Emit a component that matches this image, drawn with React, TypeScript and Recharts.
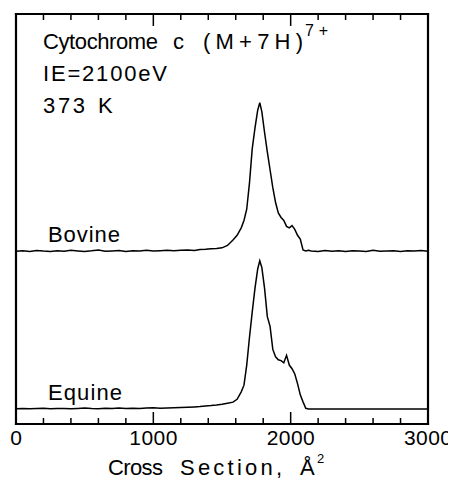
import React from 'react';
import { LineChart, Line, XAxis, YAxis } from 'recharts';

// Cross section (Å^2) sample positions
const crossSection = [
  0, 50, 100, 150, 200, 250, 300, 350, 400, 450, 500, 550, 600, 650, 700, 750, 800, 850, 900, 950,
  1000, 1050, 1100, 1150, 1200, 1250, 1300,
  1340, 1380, 1420, 1460, 1500, 1540, 1580, 1610, 1640, 1660, 1680, 1700, 1720, 1740, 1760, 1775,
  1790, 1810, 1830, 1850, 1870, 1890, 1910, 1930, 1950, 1970, 1990, 2010, 2030, 2050, 2070, 2090,
  2110, 2130,
  2150, 2200, 2250, 2300, 2350, 2400, 2450, 2500, 2550, 2600, 2650, 2700, 2750, 2800, 2850, 2900,
  2950, 3000,
];

// Normalised intensity (peak = 100)
const bovine = [
  0.3, 0.6, 0.1, 0.8, 0.4, 0.2, 0.7, 0.3, 0.9, 0.5, 0.2, 0.6, 1.2, 0.3, 0.5, 0.8, 0.2, 0.6, 0.4, 0.9,
  0.5, 0.7, 1.0, 0.6, 0.9, 1.1, 0.8,
  1.4, 1.6, 2.0, 2.2, 2.6, 4.2, 7.8, 11, 16, 21, 28.5, 46, 69, 83, 95, 100,
  94, 80, 67, 55, 43, 33, 26, 23, 21, 17, 16, 17.5, 15, 11, 8.5, 1.2,
  0.5, 0.9,
  0.5, 0.2, 0.8, 0.3, 0.6, 0.1, 0.7, 0.4, 0.2, 0.9, 0.3, 0.5, 0.7, 0.2, 0.6, 0.4,
  0.8, 0.3,
];

const equine = [
  0.2, 0.4, 0.1, 0.3, 0.5, 0.2, 0.4, 0.3, 0.1, 0.4, 0.6, 0.3, 0.2, 0.5, 0.3, 0.6, 0.4, 0.5, 0.3, 0.6,
  0.8, 0.5, 0.7, 0.9, 1.0, 1.2, 1.4,
  1.6, 2.0, 2.3, 2.7, 3.2, 3.9, 4.6, 6.5, 11.5, 16, 29.5, 48, 65, 81, 94, 99.5,
  95, 81, 62, 55.5, 40, 35, 33, 32.5, 31, 36, 29.5, 27, 23.5, 17, 9.5, 4.8,
  0.5, 0,
  0, 0, 0, 0, 0, 0, 0, 0, 0, 0, 0, 0, 0, 0, 0, 0,
  0, 0,
];

const xTicks = [0, 200, 400, 600, 800, 1000, 1200, 1400, 1600, 1800, 2000, 2200, 2400, 2600, 2800, 3000];
const majorTicks = [0, 1000, 2000, 3000];

// vertical stacking of the two traces (in intensity units)
const BOVINE_OFFSET = 115.65;
const EQUINE_OFFSET = 10.07;
const Y_MAX = 275.2;

const data = crossSection.map((x, i) => ({
  x,
  bovine: bovine[i] + BOVINE_OFFSET,
  equine: equine[i] + EQUINE_OFFSET,
}));

const FONT = '"Liberation Sans", Arial, Helvetica, sans-serif';

const BottomTick = (props: any) => {
  const { x, y, payload } = props;
  const v = payload.value as number;
  const major = majorTicks.includes(v);
  return (
    <g>
      <line x1={x} x2={x} y1={y} y2={y - (major ? 12 : 6)} stroke="#000" strokeWidth={1.5} />
      {major && (
        <text x={x} y={y + 21} textAnchor="middle" fontFamily={FONT} fontSize={21} textLength={String(v).length > 1 ? 48 : undefined} lengthAdjust="spacing" fill="#000">
          {String(v)}
        </text>
      )}
    </g>
  );
};

const TopTick = (props: any) => {
  const { x, y, payload } = props;
  const v = payload.value as number;
  const major = majorTicks.includes(v);
  return <line x1={x} x2={x} y1={y} y2={y + (major ? 12 : 6)} stroke="#000" strokeWidth={1.5} />;
};

const axisLineStyle = { stroke: '#000', strokeWidth: 2.2, strokeLinecap: 'square' as const };

const Labels = () => (
  <g fontFamily={FONT} fontSize={22} fill="#000">
    <text x={35} y={41} textLength={115} lengthAdjust="spacing">Cytochrome</text>
    <text x={165} y={41}>c</text>
    <text x={195} y={41} textLength={100} lengthAdjust="spacing">(M+7H)</text>
    <text x={297} y={28} fontSize={16} textLength={23} lengthAdjust="spacing">7+</text>
    <text x={35} y={73} textLength={124} lengthAdjust="spacing">IE=2100eV</text>
    <text x={35} y={105} textLength={42} lengthAdjust="spacing">373</text>
    <text x={90} y={105}>K</text>
    <text x={40} y={234} textLength={72} lengthAdjust="spacing">Bovine</text>
    <text x={40} y={392} textLength={74} lengthAdjust="spacing">Equine</text>
    <text x={100} y={467} textLength={55} lengthAdjust="spacing">Cross</text>
    <text x={172} y={467} textLength={102} lengthAdjust="spacing">Section,</text>
    <text x={292} y={467}>Å</text>
    <text x={309} y={455} fontSize={13}>2</text>
  </g>
);

export default function App() {
  return (
    <LineChart width={448} height={473} data={data} margin={{ top: 5, right: 27, bottom: 0, left: 7 }}>
      <XAxis
        xAxisId="b"
        dataKey="x"
        type="number"
        domain={[0, 3000]}
        ticks={xTicks}
        interval={0}
        height={57}
        tickSize={0}
        tickMargin={0}
        tickLine={false}
        axisLine={axisLineStyle}
        tick={<BottomTick />}
      />
      <XAxis
        xAxisId="t"
        dataKey="x"
        type="number"
        orientation="top"
        domain={[0, 3000]}
        ticks={xTicks}
        interval={0}
        height={1}
        tickSize={0}
        tickMargin={0}
        tickLine={false}
        axisLine={axisLineStyle}
        tick={<TopTick />}
      />
      <YAxis yAxisId="l" type="number" domain={[0, Y_MAX]} width={1} tick={false} tickLine={false} axisLine={axisLineStyle} />
      <YAxis yAxisId="r" orientation="right" type="number" domain={[0, Y_MAX]} width={1} tick={false} tickLine={false} axisLine={axisLineStyle} />
      <Line xAxisId="b" yAxisId="l" dataKey="bovine" type="linear" stroke="#000" strokeWidth={1.5} dot={false} isAnimationActive={false} />
      <Line xAxisId="b" yAxisId="l" dataKey="equine" type="linear" stroke="#000" strokeWidth={1.5} dot={false} isAnimationActive={false} />
      <Labels />
    </LineChart>
  );
}
